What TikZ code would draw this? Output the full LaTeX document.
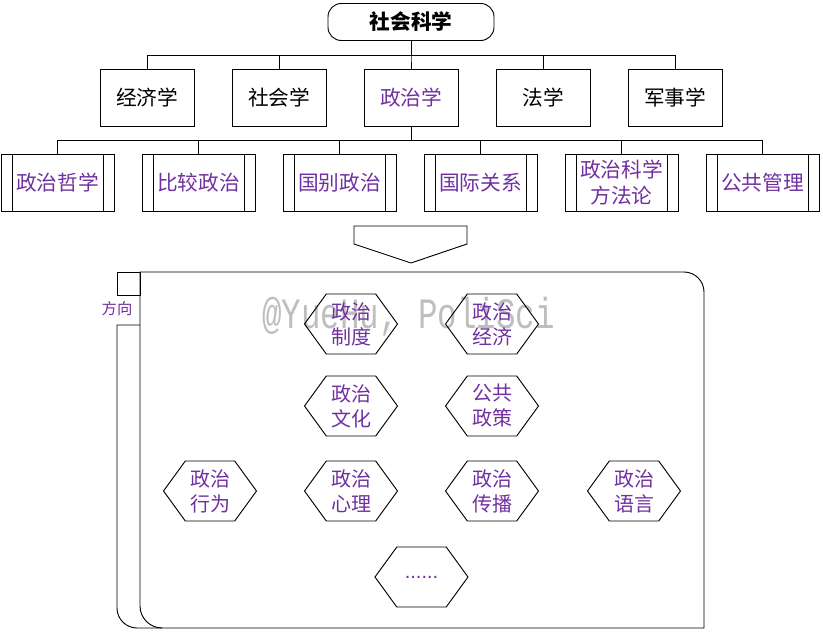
\documentclass[tikz,border=0pt]{standalone}
\usepackage{fontspec}
\setmainfont{Liberation Sans}
\newfontfamily\cjk{Noto Sans CJK SC}
\newfontfamily\wmfont{Liberation Mono}
\usetikzlibrary{positioning,shapes.symbols}
\definecolor{ppurple}{RGB}{112,48,160}
\definecolor{wmgray}{RGB}{190,190,190}

\tikzset{
  Root/.style = {draw, rounded corners=10pt, minimum width=124.5pt, minimum height=27.75pt,
                 font=\cjk\bfseries\fontsize{15.5}{18}\selectfont},
  Field/.style = {draw, minimum width=70.5pt, minimum height=42.75pt,
                  font=\cjk\fontsize{15.5}{18}\selectfont},
  Sub/.style = {draw, minimum width=84.75pt, minimum height=42.75pt, inner sep=0pt,
                align=center, text=ppurple, font=\cjk\fontsize{15.5}{19.5}\selectfont,
                path picture={
                  \draw ([xshift=8.25pt]path picture bounding box.north west) -- ([xshift=8.25pt]path picture bounding box.south west);
                  \draw ([xshift=-8.25pt]path picture bounding box.north east) -- ([xshift=-8.25pt]path picture bounding box.south east);}},
  Topic/.style = {draw, signal, signal to=east and west, signal pointer angle=108,
                  minimum width=69.75pt, minimum height=45pt, inner sep=0pt,
                  align=center, text=ppurple, font=\cjk\fontsize{15}{18.75}\selectfont}
}

\begin{document}
\begin{tikzpicture}[x=0.75pt, y=-0.75pt, line width=0.7pt]
  \useasboundingbox (0,0) rectangle (823,631);

  % top levels
  \node[Root]  (root) at (411,22) {社会科学};
  \node[Field] (jj) at (147,97.5) {经济学};
  \node[Field] (sh) [on grid, right = 99pt of jj] {社会学};
  \node[Field, text=ppurple] (zz) [on grid, right = 99pt of sh] {政治学};
  \node[Field] (fx) [on grid, right = 99pt of zz] {法学};
  \node[Field] (js) [on grid, right = 99pt of fx] {军事学};
  \foreach \c in {jj,sh,zz,fx,js}
    \draw (root.south) -- ++(0,-11.25pt) -| (\c.north);

  \node[Sub] (zx) at (57.5,182.5) {政治哲学};
  \node[Sub] (bj) [on grid, right = 105.75pt of zx] {比较政治};
  \node[Sub] (gb) [on grid, right = 105.75pt of bj] {国别政治};
  \node[Sub] (gj) [on grid, right = 105.75pt of gb] {国际关系};
  \node[Sub] (ff) [on grid, right = 105.75pt of gj] {政治科学\\方法论};
  \node[Sub] (gg) [on grid, right = 105.75pt of ff] {公共管理};
  \foreach \c in {zx,bj,gb,gj,ff,gg}
    \draw (zz.south) -- ++(0,-10.5pt) -| (\c.north);

  % arrow down
  \draw (354,226) -- (467,226) -- (467,244) -- (411,263) -- (354,244) -- cycle;

  % container
  \draw (140,272) -- (684,272) .. controls (695,272) and (704,281) .. (704,292)
        -- (704,628) -- (162,628) .. controls (150,628) and (140,618) .. (140,606) -- cycle;
  \draw (117,272) rectangle (140,295);
  \draw (140,325) -- (117,325) -- (117,608) .. controls (117,619) and (126,628) .. (137,628) -- (162,628);
  \node[text=ppurple, font=\cjk\fontsize{11.5}{14}\selectfont] (dir) at (117,309) {方向};

  % watermark
  \node[text=wmgray, anchor=base, inner sep=0pt] (wm) at (408.5,328)
    {\scalebox{1}[1.33]{\wmfont\fontsize{24.4}{28}\selectfont @YueHu, PoliSci}};

  % directions
  \node[Topic] (zd) at (351,324) {政治\\制度};
  \node[Topic] (zj) at (492,324) {政治\\经济};
  \node[Topic] (wh) at (351,406) {政治\\文化};
  \node[Topic] (gc) at (492,406) {公共\\政策};
  \node[Topic] (xw) at (210,491) {政治\\行为};
  \node[Topic] (xl) at (351,491) {政治\\心理};
  \node[Topic] (cb) at (492,491) {政治\\传播};
  \node[Topic] (yy) at (634,491) {政治\\语言};
  \node[Topic, font=\fontsize{15}{18}\selectfont] (more) at (421.5,577) {......};
\end{tikzpicture}
\end{document}
